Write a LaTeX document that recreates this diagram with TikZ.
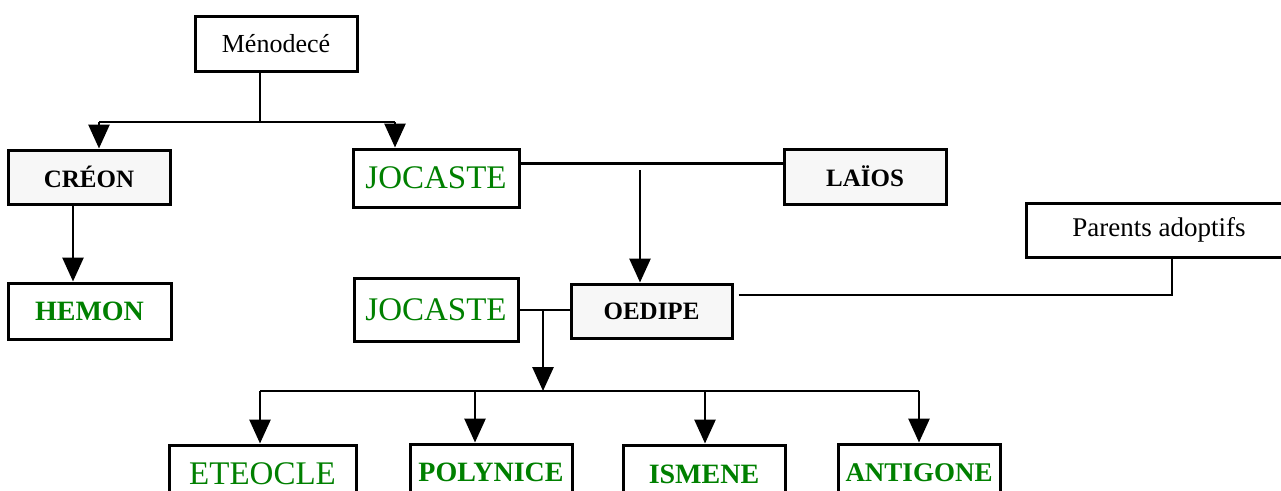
\documentclass[tikz,border=0pt]{standalone}
\usepackage{fontspec}
\setmainfont{Liberation Serif}
\usetikzlibrary{arrows.meta,calc}
\definecolor{tgreen}{RGB}{0,128,0}
\definecolor{boxgray}{RGB}{247,247,247}
\newcommand\myfs[1]{\fontsize{#1}{#1}\selectfont}
\tikzset{
  box/.style={draw=black, line width=3pt, fill=white, inner sep=0pt, align=center},
  graybox/.style={box, fill=boxgray},
  conn/.style={line width=2.8pt, draw=black},
  arr/.style={-{Triangle[width=21pt,length=24pt]}},
  gname/.style={text=tgreen},
}
\begin{document}
\begin{tikzpicture}[x=1pt,y=-1pt]
\useasboundingbox (0,0) rectangle (1281,490);
\clip (0,0) rectangle (1281,490);
\fill[white] (0,0) rectangle (1281,490);

% nodes
\node[box, minimum width=162pt, minimum height=55pt] (meno) at (276,43.5) {\myfs{26}Ménodecé};
\node[graybox, minimum width=162pt, minimum height=54pt] (creon) at (89,177) {\myfs{25}\bfseries CRÉON};
\node[box, gname, minimum width=166pt, minimum height=58pt] (joc1) at (436,178) {\myfs{33}JOCASTE};
\node[graybox, minimum width=162pt, minimum height=55pt] (laios) at (865,176.5) {\myfs{25}\bfseries LAÏOS};
\node[box, gname, minimum width=163pt, minimum height=56pt] (hemon) at (89.5,311) {\myfs{28}\bfseries HEMON};
\node[box, gname, minimum width=164pt, minimum height=63pt] (joc2) at (436,309.5) {\myfs{33}JOCASTE};
\node[graybox, minimum width=161pt, minimum height=54pt] (oedipe) at (651.5,311) {\myfs{25}\bfseries OEDIPE};
\node[box, minimum width=266pt, minimum height=54pt] (parents) at (1159,230) {\myfs{27}Parents adoptifs};
\node[box, gname, minimum width=187pt, minimum height=58pt] (eteocle) at (262.5,474) {\myfs{33}ETEOCLE};
\node[box, gname, minimum width=162pt, minimum height=56pt] (polynice) at (491,472) {\myfs{28}\bfseries POLYNICE};
\node[box, gname, minimum width=162pt, minimum height=58pt] (ismene) at (704,474) {\myfs{28}\bfseries ISMENE};
\node[box, gname, minimum width=162pt, minimum height=58pt] (antigone) at (919,473) {\myfs{27}\bfseries ANTIGONE};

% Ménodecé -> Créon, Jocaste
\coordinate (b1m) at (260,122);
\coordinate (b1l) at (99,122);
\coordinate (b1r) at (395,122);
\draw[conn] (meno.south -| b1m) -- (b1m);
\draw[conn] (b1l) -- (b1r);
\draw[conn,arr] (b1l) -- (creon.north -| b1l);
\draw[conn,arr] (b1r) -- (joc1.north -| b1r);

% Créon -> Hémon
\coordinate (ch) at (73,0);
\draw[conn,arr] (creon.south -| ch) -- (hemon.north -| ch);

% Jocaste -- Laïos, -> Oedipe
\coordinate (jl) at (645,163.5);
\draw[conn] (joc1.east |- jl) -- (laios.west |- jl);
\coordinate (jo) at (640,170);
\draw[conn,arr] (jo) -- (oedipe.north -| jo);

% Jocaste -- Oedipe -> children
\coordinate (jo2) at (543,310);
\coordinate (kb) at (543,391);
\draw[conn] (joc2.east |- jo2) -- (oedipe.west |- jo2);
\draw[conn,arr] (jo2) -- (kb);
\coordinate (kl) at (260,391);
\coordinate (k2) at (475,391);
\coordinate (k3) at (705,391);
\coordinate (kr) at (919,391);
\draw[conn] (kl) -- (kr);
\draw[conn,arr] (kl) -- (eteocle.north -| kl);
\draw[conn,arr] (k2) -- (polynice.north -| k2);
\draw[conn,arr] (k3) -- (ismene.north -| k3);
\draw[conn,arr] (kr) -- (antigone.north -| kr);

% Oedipe -- Parents adoptifs
\coordinate (op) at (1172,295);
\draw[conn] ([xshift=5pt]oedipe.east |- op) -- (op) -- (parents.south -| op);
\end{tikzpicture}
\end{document}
